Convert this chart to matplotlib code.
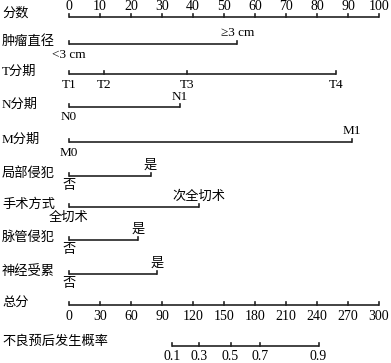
import matplotlib
matplotlib.use('Agg')
import matplotlib.pyplot as plt

plt.rcParams['font.family'] = ['Liberation Serif', 'Noto Sans CJK SC', 'DejaVu Sans']

# points scale
point_ticks = [0, 10, 20, 30, 40, 50, 60, 70, 80, 90, 100]

# variables: name, level labels, points for each level
var_names = ['肿瘤直径', 'T分期', 'N分期', 'M分期', '局部侵犯', '手术方式', '脉管侵犯', '神经受累']
var_levels = [
    ['<3 cm', '≥3 cm'],
    ['T1', 'T2', 'T3', 'T4'],
    ['N0', 'N1'],
    ['M0', 'M1'],
    ['否', '是'],
    ['全切术', '次全切术'],
    ['否', '是'],
    ['否', '是'],
]
var_points = [
    [0, 54.3],
    [0, 11.4, 38.0, 86.2],
    [0, 35.8],
    [0, 91.4],
    [0, 26.3],
    [0, 42.0],
    [0, 22.4],
    [0, 28.5],
]
# label side for each level: 1 above, -1 below
var_sides = [
    [-1, 1],
    [-1, -1, -1, -1],
    [-1, 1],
    [-1, 1],
    [-1, 1],
    [-1, 1],
    [-1, 1],
    [-1, 1],
]

total_ticks = [0, 30, 60, 90, 120, 150, 180, 210, 240, 270, 300]
prob_labels = ['0.1', '0.3', '0.5', '0.7', '0.9']
prob_total = [100, 125.7, 156.3, 184.9, 241.5]

# layout (pixels)
W, H = 391, 363
x0, px_per_pt = 69, 3.1
row_y = [17, 44, 74, 107, 142, 176, 207, 240, 274, 305, 346]

fig = plt.figure(figsize=(W / 100, H / 100), dpi=100)
ax = fig.add_axes([0, 0, 1, 1])
ax.set_xlim(-x0 / px_per_pt, (W - x0) / px_per_pt)
ax.set_ylim(H, 0)
ax.axis('off')

lc = '#222222'
lw = 1.2
tick_h = 3.5
fs_num = 10
fs_cn = 9.5
label_x = (2 - x0) / px_per_pt


def scale_line(y, pos, labels, sides, dy=10, fs=fs_num):
    ax.plot([min(pos), max(pos)], [y, y], color=lc, lw=lw, solid_capstyle='butt')
    for p, lab, s in zip(pos, labels, sides):
        ax.plot([p, p], [y, y - tick_h], color=lc, lw=lw)
        ax.text(p, y - s * dy, lab, ha='center', va='center', fontsize=fs)


# points row
ax.text(label_x, row_y[0] - 4, '分数', ha='left', va='center', fontsize=fs_cn)
scale_line(row_y[0], point_ticks, [str(t) for t in point_ticks], [1] * len(point_ticks), dy=11)

for i, name in enumerate(var_names):
    y = row_y[i + 1]
    ax.text(label_x, y - 2, name, ha='left', va='center', fontsize=fs_cn)
    scale_line(y, var_points[i], var_levels[i], var_sides[i], dy=10.5, fs=9.5)

# total points
y = row_y[9]
ax.text(label_x, y - 2, '总分', ha='left', va='center', fontsize=fs_cn)
scale_line(y, [t / 3 for t in total_ticks], [str(t) for t in total_ticks],
           [-1] * len(total_ticks), dy=12)

# probability
y = row_y[10]
ax.text(label_x, y - 4, '不良预后发生概率', ha='left', va='center', fontsize=fs_cn)
scale_line(y, [t / 3 for t in prob_total], prob_labels, [-1] * len(prob_labels), dy=11)

fig.savefig('out.png', dpi=100)
